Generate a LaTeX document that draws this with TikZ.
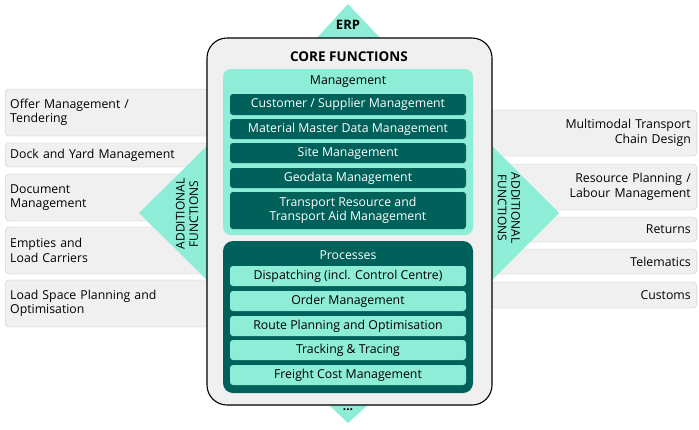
\documentclass[tikz,border=0pt]{standalone}
\usepackage{fontspec}
\setmainfont{Open Sans}
\usepackage{tikz}
\usetikzlibrary{positioning}
\definecolor{dteal}{RGB}{0,96,90}
\definecolor{lteal}{RGB}{142,237,214}
\definecolor{lgray}{RGB}{240,240,240}
\definecolor{bgray}{RGB}{200,200,200}

\begin{document}
\begin{tikzpicture}[
  x=1pt, y=-1pt,
  font=\fontsize{12.3}{14.5}\selectfont,
  sidel/.style={draw=bgray, fill=lgray, rounded corners=4pt, anchor=west,
                text width=205pt, inner xsep=5pt, align=left, minimum height=#1},
  sider/.style={draw=bgray, fill=lgray, rounded corners=4pt, anchor=east,
                text width=205pt, inner xsep=6pt, align=right, minimum height=#1},
  mgt/.style={fill=dteal, text=white, rounded corners=3pt, minimum width=236pt,
              minimum height=#1, align=center, inner sep=0pt},
  prc/.style={fill=lteal, text=black, rounded corners=3pt, minimum width=236pt,
              minimum height=#1, align=center, inner sep=0pt},
  tri/.style={fill=lteal}
]
\useasboundingbox (0,0) rectangle (699,429);

% linke Zusatzfunktionen
\node[sidel=47pt] (offer) at (5,112.5) {Offer Management /\\Tendering};
\node[sidel=24pt] (dock)  at (5,155)   {Dock and Yard Management};
\node[sidel=47pt] (doc)   at (5,197.5) {Document\\Management};
\node[sidel=47pt] (empt)  at (5,250.5) {Empties and\\Load Carriers};
\node[sidel=47pt] (lsp)   at (5,303.5) {Load Space Planning and\\Optimisation};

% rechte Zusatzfunktionen
\node[sider=46pt] (multi) at (697,133)   {Multimodal Transport\\Chain Design};
\node[sider=46pt] (res)   at (697,187)   {Resource Planning /\\Labour Management};
\node[sider=25pt] (ret)   at (697,229.5) {Returns};
\node[sider=25pt] (tele)  at (697,261.5) {Telematics};
\node[sider=26pt] (cust)  at (697,295)   {Customs};

% Dreiecke
\fill[tri] (207,146) -- (139,213) -- (207,280) -- cycle;
\fill[tri] (492,146) -- (559,213) -- (492,280) -- cycle;
\fill[tri] (315,40) -- (348,4) -- (382,40) -- cycle;
\fill[tri] (328,404) -- (348,423) -- (369,404) -- cycle;
\node[rotate=90, align=center, font=\fontsize{12}{13.5}\selectfont] (addl) at (187,214) {ADDITIONAL\\FUNCTIONS};
\node[rotate=-90, align=center, font=\fontsize{12}{13.5}\selectfont] (addr) at (509,208) {ADDITIONAL\\FUNCTIONS};
\node[font=\fontsize{13}{14}\selectfont\bfseries] (erp) at (348,25) {ERP};

% Kernfunktionen
\node[draw, fill=lgray, line width=1.1pt, rounded corners=20pt,
      minimum width=285pt, minimum height=367pt] (core) at (349.5,221.5) {};
\node[font=\fontsize{13.5}{14}\selectfont\bfseries] (coret) at (349,57) {CORE FUNCTIONS};

% Management
\node[fill=lteal, rounded corners=8pt, minimum width=250pt, minimum height=166pt] (mgmt) at (348,152) {};
\node (mgmtt) at (348,82) {Management};
\node[mgt=21pt] (csm) at (348,104.5) {Customer / Supplier Management};
\node[mgt=20pt] (mmd) at (348,129)   {Material Master Data Management};
\node[mgt=20pt] (site) at (348,153)  {Site Management};
\node[mgt=20pt] (geo) at (348,178)   {Geodata Management};
\node[mgt=37pt] (tra) at (348,210.5) {Transport Resource and\\Transport Aid Management};

% Prozesse
\node[fill=dteal, rounded corners=10pt, minimum width=250pt, minimum height=152pt] (proc) at (348,317) {};
\node[text=white] (proct) at (348,255) {Processes};
\node[prc=20pt] (disp)  at (348,276) {Dispatching (incl. Control Centre)};
\node[prc=20pt] (ord)   at (348,301) {Order Management};
\node[prc=20pt] (route) at (348,326) {Route Planning and Optimisation};
\node[prc=20pt] (track) at (348,350) {Tracking \& Tracing};
\node[prc=20pt] (frt)   at (348,375) {Freight Cost Management};

\node[font=\fontsize{12}{12}\selectfont\bfseries] (dots) at (348,410) {...};

\end{tikzpicture}
\end{document}
